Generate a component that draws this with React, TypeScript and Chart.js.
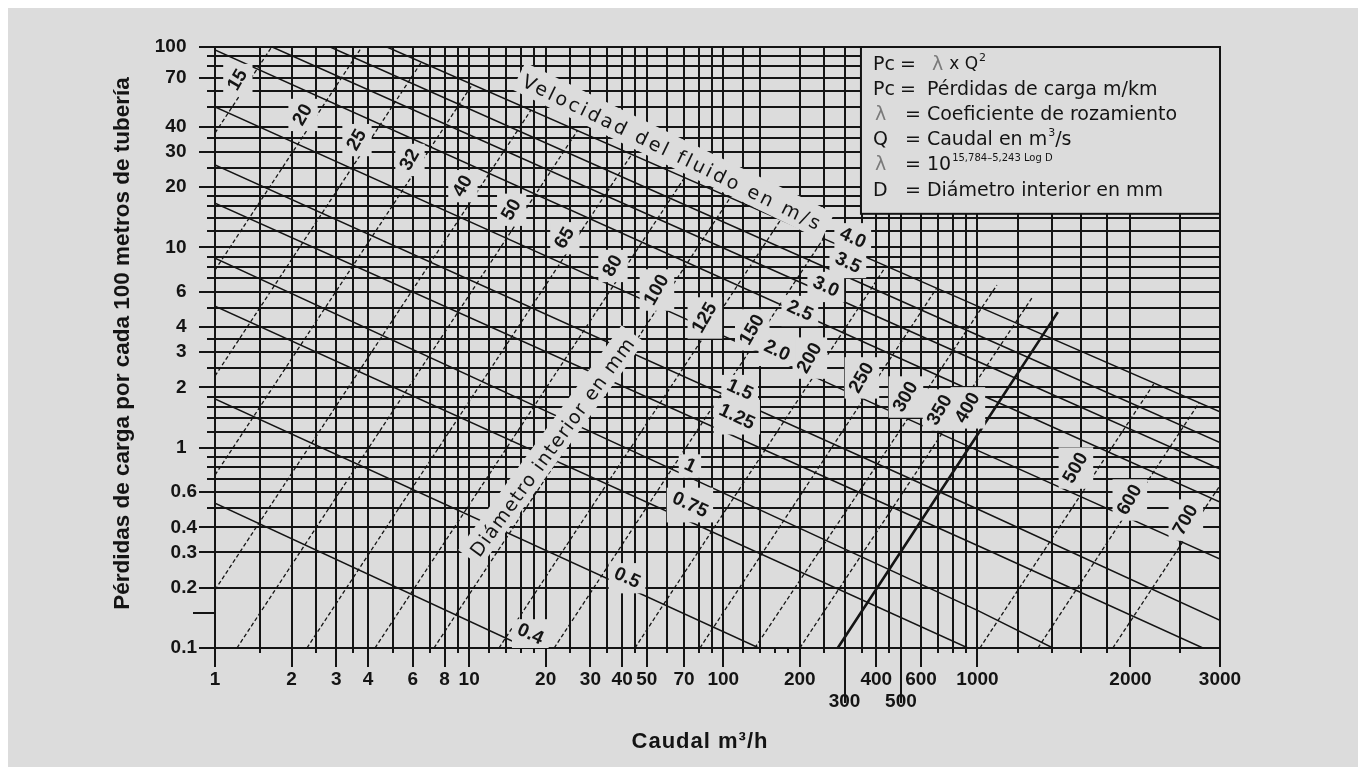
import React, { useEffect, useRef } from 'react';
import { Chart, LogarithmicScale, registerables } from 'chart.js';

Chart.register(...registerables);

// ---------------- data ----------------
const xGridValues = [1, 1.5, 2, 2.5, 3, 3.5, 4, 5, 6, 7, 8, 9, 10, 12, 14, 16, 18, 20, 25, 30, 35, 40, 45, 50, 60, 70, 80, 90, 100, 120, 140, 160, 180, 200, 250, 300, 350, 400, 450, 500, 600, 700, 800, 900, 1000, 1200, 1400, 1600, 1800, 2000, 2500, 3000];
const xTickOnlyValues = [160, 180];
const xLabelsUpper = [1, 2, 3, 4, 6, 8, 10, 20, 30, 40, 50, 70, 100, 200, 400, 600, 1000, 2000, 3000];
const xLabelsLower = [300, 500];

const yGridValues = [0.1, 0.15, 0.2, 0.3, 0.4, 0.5, 0.6, 0.7, 0.8, 0.9, 1, 1.2, 1.4, 1.6, 1.8, 2, 2.5, 3, 3.5, 4, 5, 6, 7, 8, 9, 10, 12, 14, 16, 18, 20, 25, 30, 35, 40, 50, 60, 70, 80, 90, 100];
const yTickOnlyValues = [0.15];
const yLabels = [0.1, 0.2, 0.3, 0.4, 0.6, 1, 2, 3, 4, 6, 10, 20, 30, 40, 70, 100];

// pipe inner diameters (mm) and their lines [caudal m3/h, perdida]
const diameters = [15, 20, 25, 32, 40, 50, 65, 80, 100, 125, 150, 200, 250, 300, 350, 400, 500, 600, 700];
const diameterLines = [
  [[1, 37.2], [1.67, 100]],
  [[1, 7.7], [3.78, 100]],
  [[1, 2.28], [6.49, 84.1]],
  [[1, 0.73], [10.3, 65.1]],
  [[1, 0.195], [17.5, 48.4]],
  [[1.22, 0.1], [26.7, 38.3]],
  [[2.3, 0.1], [43.6, 29.1]],
  [[4.26, 0.1], [70.4, 22.3]],
  [[7.27, 0.1], [106.5, 17.7]],
  [[13.1, 0.1], [168, 13.7]],
  [[21.6, 0.1], [248, 11.1]],
  [[44.9, 0.1], [437, 8.07]],
  [[80.9, 0.1], [691, 6.26]],
  [[133, 0.1], [1000, 4.64], [1092, 6.48]],
  [[200, 0.1], [1000, 2.18], [1279, 5.58]],
  [[282, 0.1], [1000, 1.16], [1439, 4.75]],
  [[1011, 0.1], [2225, 2.09]],
  [[1315, 0.1], [2727, 1.67]],
  [[1846, 0.1], [3000, 0.648]],
];
const diameterLabelQ = [1.23, 2.22, 3.62, 5.85, 9.45, 14.7, 23.8, 36.8, 54.8, 84.6, 130, 219, 351, 523, 712, 917, 1562, 1994, 2570];
const diameterLabelP = [68.4, 45.8, 34.3, 27.3, 20.2, 15.4, 11.1, 8.07, 6.12, 4.44, 3.87, 2.8, 2.23, 1.79, 1.54, 1.58, 0.791, 0.548, 0.435];

// fluid velocities (m/s) and their lines
const velocities = ['4.0', '3.5', '3.0', '2.5', '2.0', '1.5', '1.25', '1', '0.75', '0.5', '0.4'];
const velocityLines = [
  [[4.75, 100], [1000, 5.09], [3000, 1.51]],
  [[2.84, 100], [1000, 3.65], [3000, 1.06]],
  [[1.68, 100], [1000, 2.7], [3000, 0.783]],
  [[1, 96.6], [1000, 1.87], [3000, 0.535]],
  [[1, 50.2], [1000, 0.97], [3000, 0.278]],
  [[1, 25.8], [1000, 0.494], [3000, 0.1375]],
  [[1, 16.6], [1000, 0.325], [2776, 0.1]],
  [[1, 8.84], [1000, 0.154], [1407, 0.1]],
  [[1, 5.09], [917, 0.1]],
  [[1, 1.75], [138, 0.1]],
  [[1, 0.529], [16.9, 0.1]],
];
const velocityLabelQ = [323, 309, 253, 200, 162.5, 116, 113, 73.9, 73.9, 41.8, 17.4];
const velocityLabelP = [11.1, 8.35, 6.34, 4.81, 3.04, 1.94, 1.42, 0.809, 0.517, 0.223, 0.117];

const velocityTitle = 'Velocidad del fluido en m/s';
const velocityTitleAt = [62.8, 29.2];
const diameterTitle = 'Diámetro interior en mm';
const diameterTitleAt = [21.5, 1.0];

const xTitle = 'Caudal m³/h';
const yTitle = 'Pérdidas de carga por cada 100 metros de tubería';

const legendSymbols = ['Pc', 'Pc', 'λ', 'Q', 'λ', 'D'];
const legendTexts = ['x Q', 'Pérdidas de carga m/km', 'Coeficiente de rozamiento', 'Caudal en m', '10', 'Diámetro interior en mm'];
const legendSupers = ['2', '', '', '3', '15,784–5,243 Log D', ''];
const legendAfter = ['', '', '', '/s', '', ''];
const legendBoxCorner = [348, 14.7]; // caudal (left edge), perdida (bottom edge)

// ---------------- styles ----------------
const BG = '#dcdcdc';
const INK = '#141414';
const GREY = '#7a7a7a';
const CLEAR = 'rgba(0,0,0,0)';
const LABEL_FONT = 'bold 19px "Liberation Sans"';
const TITLE_FONT = '19px "DejaVu Sans"';

// ---------------- warped log scale (axis is stretched above 1000) ----------------
const KNEE = 3; // log10(1000)
const STRETCH = 2;
const warp = (v: number) => {
  const l = Math.log10(v);
  return l <= KNEE ? l : KNEE + STRETCH * (l - KNEE);
};
const unwarp = (u: number) => Math.pow(10, u <= KNEE ? u : KNEE + (u - KNEE) / STRETCH);

class WarpLogScale extends LogarithmicScale {
  static id = 'warplog';
  getPixelForValue(value: any) {
    const a = warp(this.min), b = warp(this.max);
    const v = value === undefined || value === null || !(value > 0) ? this.min : value;
    return this.getPixelForDecimal((warp(v) - a) / (b - a));
  }
  getValueForPixel(pixel: number) {
    const a = warp(this.min), b = warp(this.max);
    return unwarp(a + this.getDecimalForPixel(pixel) * (b - a));
  }
}
Chart.register(WarpLogScale as any);

// ---------------- overlay plugin ----------------
function drawLabel(ctx: any, text: string, cx: number, cy: number, angDeg: number, font: string, spacing: number) {
  ctx.save();
  ctx.font = font;
  ctx.letterSpacing = spacing + 'px';
  ctx.fillStyle = INK;
  ctx.textAlign = 'center';
  ctx.textBaseline = 'middle';
  ctx.translate(cx, cy);
  ctx.rotate((angDeg * Math.PI) / 180);
  ctx.fillText(text, 0, 0);
  ctx.restore();
}

const overlayPlugin = {
  id: 'nomogramOverlay',
  afterDatasetsDraw(chart: any) {
    const { ctx, chartArea: ca } = chart;
    const xs = chart.scales.x, ys = chart.scales.y;
    const items: any[] = [];
    diameters.forEach((d, i) => items.push({ text: String(d), q: diameterLabelQ[i], p: diameterLabelP[i], ang: -60, font: LABEL_FONT, sp: 0, mode: 'box', h: 17 }));
    velocities.forEach((v, i) => items.push({ text: v, q: velocityLabelQ[i], p: velocityLabelP[i], ang: 25, font: LABEL_FONT, sp: 0, mode: 'box', h: 17 }));
    items.push({ text: velocityTitle, q: velocityTitleAt[0], p: velocityTitleAt[1], ang: 26, font: TITLE_FONT, sp: 2.8, mode: 'rot', h: 30 });
    items.push({ text: diameterTitle, q: diameterTitleAt[0], p: diameterTitleAt[1], ang: -54, font: TITLE_FONT, sp: 1.3, mode: 'rot', h: 28 });

    ctx.save();
    ctx.beginPath();
    ctx.rect(ca.left, ca.top, ca.right - ca.left, ca.bottom - ca.top);
    ctx.clip();
    // masks
    for (const it of items) {
      const cx = xs.getPixelForValue(it.q), cy = ys.getPixelForValue(it.p);
      ctx.font = it.font;
      ctx.letterSpacing = it.sp + 'px';
      const w = ctx.measureText(it.text).width;
      ctx.fillStyle = BG;
      const a = (it.ang * Math.PI) / 180;
      if (it.mode === 'box') {
        const ww = w + 4, hh = it.h;
        const bw = Math.abs(ww * Math.cos(a)) + Math.abs(hh * Math.sin(a));
        const bh = Math.abs(ww * Math.sin(a)) + Math.abs(hh * Math.cos(a));
        ctx.fillRect(cx - bw / 2 - 1, cy - bh / 2 - 1, bw + 2, bh + 2);
      } else {
        ctx.save();
        ctx.translate(cx, cy);
        ctx.rotate(a);
        ctx.fillRect(-w / 2 - 6, -it.h / 2 - 3, w + 12, it.h);
        ctx.restore();
      }
    }
    ctx.letterSpacing = '0px';
    for (const it of items) {
      drawLabel(ctx, it.text, xs.getPixelForValue(it.q), ys.getPixelForValue(it.p), it.ang, it.font, it.sp);
    }
    ctx.restore();

    // legend box
    const bl = xs.getPixelForValue(legendBoxCorner[0]);
    const bb = ys.getPixelForValue(legendBoxCorner[1]);
    const bt = ca.top, br = ca.right;
    ctx.save();
    ctx.fillStyle = BG;
    ctx.fillRect(bl, bt, br - bl, bb - bt);
    ctx.strokeStyle = INK;
    ctx.lineWidth = 2;
    ctx.strokeRect(bl, bt, br - bl, bb - bt);
    ctx.textBaseline = 'middle';
    ctx.textAlign = 'left';
    const rowH = (bb - bt - 16) / 6;
    legendSymbols.forEach((sym, i) => {
      const cy = bt + 18 + i * rowH;
      ctx.font = '19px "DejaVu Sans"';
      ctx.fillStyle = sym === 'λ' ? GREY : INK;
      ctx.fillText(sym, bl + (sym === 'λ' ? 14 : 12), cy);
      ctx.fillStyle = INK;
      ctx.fillText('=', bl + (i < 2 ? 39 : 44), cy);
      let tx = bl + (i === 0 ? 71 : 66);
      if (i === 0) {
        ctx.fillStyle = GREY;
        ctx.fillText('λ', tx, cy);
        tx += ctx.measureText('λ ').width;
        ctx.fillStyle = INK;
        ctx.font = '17px "DejaVu Sans"';
      }
      ctx.fillText(legendTexts[i], tx, cy);
      tx += ctx.measureText(legendTexts[i]).width;
      if (legendSupers[i]) {
        const small = legendSupers[i].length > 2 ? '10px "DejaVu Sans"' : '11px "DejaVu Sans"';
        ctx.font = small;
        ctx.fillText(legendSupers[i], tx + 1, cy - 7);
        tx += ctx.measureText(legendSupers[i]).width + 1;
      }
      if (legendAfter[i]) {
        ctx.font = '19px "DejaVu Sans"';
        ctx.fillText(legendAfter[i], tx, cy);
      }
    });
    ctx.restore();
  },
  afterDraw(chart: any) {
    const { ctx, chartArea: ca } = chart;
    const xs = chart.scales.x, ys = chart.scales.y;
    ctx.save();
    ctx.strokeStyle = INK;
    ctx.lineWidth = 2;
    ctx.beginPath();
    xGridValues.forEach((v) => {
      if (xLabelsUpper.includes(v)) return;
      const px = Math.round(xs.getPixelForValue(v));
      const len = xLabelsLower.includes(v) ? 55 : 5;
      ctx.moveTo(px, ca.bottom);
      ctx.lineTo(px, ca.bottom + len);
    });
    yGridValues.forEach((v) => {
      if (yLabels.includes(v)) return;
      const py = Math.round(ys.getPixelForValue(v));
      const len = yTickOnlyValues.includes(v) ? 22 : 8;
      ctx.moveTo(ca.left - len, py);
      ctx.lineTo(ca.left, py);
    });
    ctx.stroke();

    // axis titles
    ctx.fillStyle = INK;
    ctx.textAlign = 'center';
    ctx.textBaseline = 'middle';
    ctx.font = 'bold 22.5px "Liberation Sans"';
    ctx.save();
    ctx.translate(ca.left - 92, (ca.top + ca.bottom) / 2 - 4);
    ctx.rotate(-Math.PI / 2);
    ctx.fillText(yTitle, 0, 0);
    ctx.restore();
    ctx.font = 'bold 22px "Liberation Sans"';
    ctx.letterSpacing = '1px';
    ctx.fillText(xTitle, ca.left + 485, ca.bottom + 94);
    ctx.restore();
  },
};

// ---------------- component ----------------
export default function App() {
  const ref = useRef<HTMLCanvasElement>(null);
  useEffect(() => {
    const datasets: any[] = [];
    diameters.forEach((d, i) => {
      datasets.push({
        label: 'D ' + d,
        data: diameterLines[i].map(([x, y]) => ({ x, y })),
        borderColor: INK,
        borderWidth: d === 400 ? 2.6 : 1.3,
        borderDash: d === 400 ? [] : [4, 2.5],
        pointRadius: 0,
        showLine: true,
        fill: false,
      });
    });
    velocities.forEach((v, i) => {
      datasets.push({
        label: 'v ' + v,
        data: velocityLines[i].map(([x, y]) => ({ x, y })),
        borderColor: INK,
        borderWidth: 1.5,
        pointRadius: 0,
        showLine: true,
        fill: false,
      });
    });

    const chart = new Chart(ref.current as HTMLCanvasElement, {
      type: 'scatter',
      data: { datasets },
      options: {
        animation: false,
        responsive: false,
        events: [],
        layout: { padding: { top: 39, right: 138, bottom: 0, left: 0 } },
        plugins: { legend: { display: false }, tooltip: { enabled: false }, title: { display: false } },
        scales: {
          x: {
            type: 'warplog' as any,
            position: 'bottom',
            min: 1,
            max: 3000,
            afterBuildTicks: (s: any) => { s.ticks = xGridValues.map((v) => ({ value: v })); },
            afterFit: (s: any) => { s.height = 119; },
            ticks: {
              autoSkip: false,
              maxRotation: 0,
              minRotation: 0,
              padding: 1,
              color: INK,
              font: { family: 'Liberation Sans', weight: 'bold', size: 19, lineHeight: 1.2 },
              callback: (v: any) => (xLabelsUpper.includes(v) ? String(v) : xLabelsLower.includes(v) ? ['', String(v)] : ''),
            },
            grid: {
              color: (c: any) => (xTickOnlyValues.includes(c.tick?.value) ? CLEAR : INK),
              lineWidth: 2,
              tickLength: 19,
              tickWidth: 2,
              tickColor: (c: any) => (xLabelsUpper.includes(c.tick?.value) ? INK : CLEAR),
            },
            border: { display: true, color: INK, width: 2 },
            title: { display: false },
          } as any,
          y: {
            type: 'logarithmic',
            position: 'left',
            min: 0.1,
            max: 100,
            afterBuildTicks: (s: any) => { s.ticks = yGridValues.map((v) => ({ value: v })); },
            afterFit: (s: any) => { s.width = 207; },
            ticks: {
              autoSkip: false,
              padding: 2,
              color: INK,
              font: { family: 'Liberation Sans', weight: 'bold', size: 19 },
              callback: (v: any) => (yLabels.includes(v) ? (v >= 1 ? String(v) + '  ' : String(v)) : ''),
            },
            grid: {
              color: (c: any) => (yTickOnlyValues.includes(c.tick?.value) ? CLEAR : INK),
              lineWidth: 2,
              tickLength: 16,
              tickWidth: 2,
              tickColor: (c: any) => (yLabels.includes(c.tick?.value) ? INK : CLEAR),
            },
            border: { display: true, color: INK, width: 2 },
            title: { display: false },
          } as any,
        },
      },
      plugins: [overlayPlugin],
    } as any);
    return () => chart.destroy();
  }, []);

  return (
    <div style={{ width: 1350, height: 759, background: BG }}>
      <canvas ref={ref} width={1350} height={759} style={{ display: 'block' }} />
    </div>
  );
}
